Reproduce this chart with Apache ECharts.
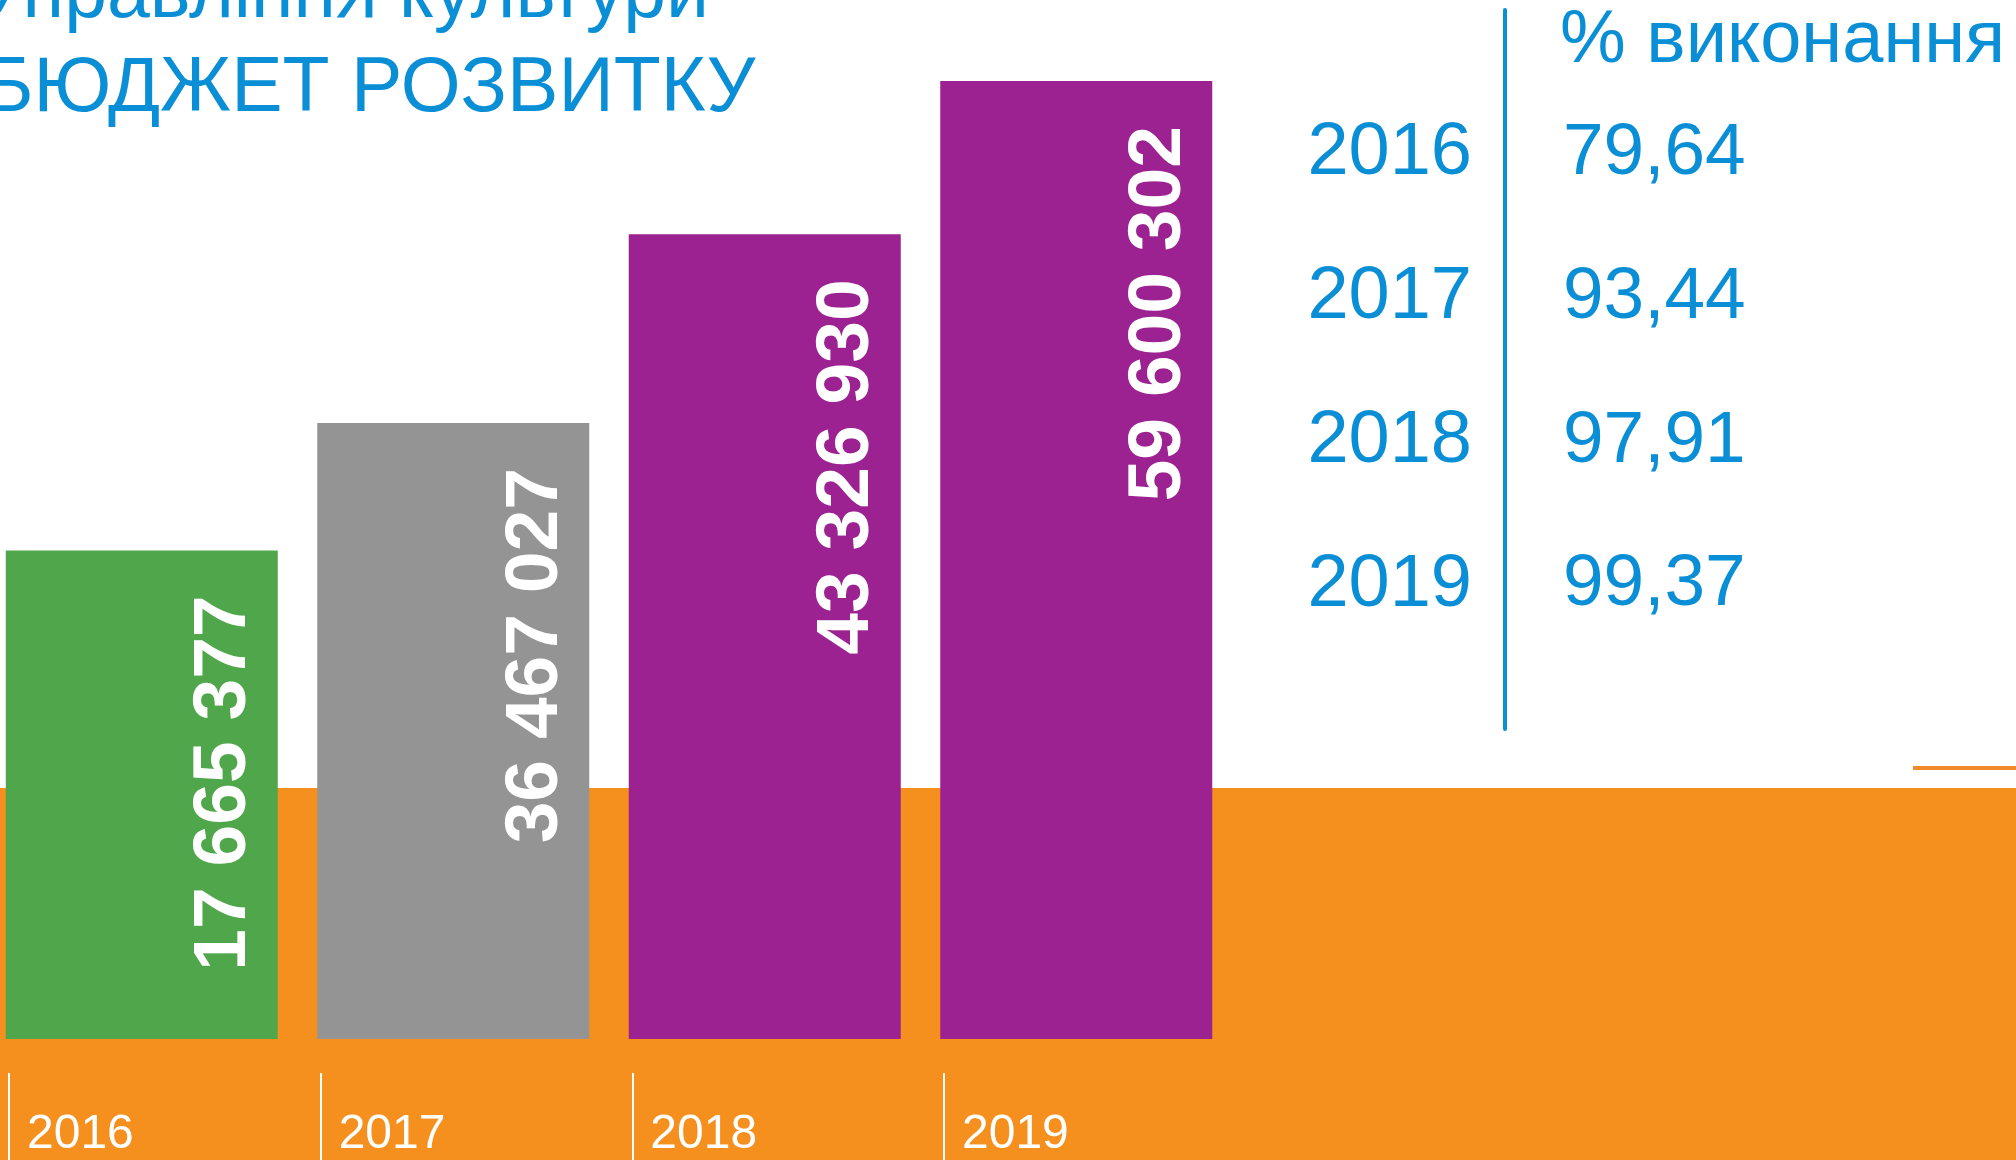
<!DOCTYPE html>
<html>
<head>
<meta charset="utf-8">
<script src="https://cdn.jsdelivr.net/npm/echarts@6/dist/echarts.min.js"></script>
<style>
html,body{margin:0;padding:0;background:#fff;}
#chart{width:2016px;height:1160px;}
</style>
</head>
<body>
<div id="chart"></div>
<script>
// ---- data ----
const years = ['2016', '2017', '2018', '2019'];
const amounts = [17665377, 36467027, 43326930, 59600302];
// apparent bar heights (share of the tallest bar, %), the infographic is not to scale
const barHeights = [51.0, 64.3, 84.0, 100];
const barColors = ['#50a64b', '#949494', '#9c2191', '#9c2191'];
const execYears = ['2016', '2017', '2018', '2019'];
const execPercent = [79.64, 93.44, 97.91, 99.37];
const titleLines = ['Управління культури', 'БЮДЖЕТ РОЗВИТКУ'];
const execHeader = '% виконання';

const BLUE = '#0a8ed6';
const FONT = '"Liberation Sans", Arial, sans-serif';

function fmtAmount(v) {
  return String(v).replace(/\B(?=(\d{3})+(?!\d))/g, ' ');
}
function fmtPct(v) {
  return v.toFixed(2).replace('.', ',');
}

const chart = echarts.init(document.getElementById('chart'), null, {renderer: 'canvas'});

const option = {
  animation: false,
  backgroundColor: '#ffffff',
  grid: [
    {left: -14, width: 1246, top: 81, height: 958, outerBoundsMode: 'none', containLabel: false},
    {left: 9, width: 935, top: 1000, height: 160, outerBoundsMode: 'none', containLabel: false},
    {left: 1505, width: 511, top: 10, height: 719, outerBoundsMode: 'none', containLabel: false}
  ],
  xAxis: [
    {type: 'category', gridIndex: 0, data: years, show: false},
    {
      type: 'category', gridIndex: 1, data: years, boundaryGap: false, position: 'bottom', z: 10,
      axisLine: {show: false},
      axisTick: {show: true, inside: true, length: 87, lineStyle: {color: '#ffffff', width: 2}},
      axisLabel: {
        show: true, inside: true, margin: 1, align: 'left', padding: [0, 0, 0, 18],
        color: '#ffffff', fontSize: 48, lineHeight: 48, fontFamily: FONT
      }
    },
    {type: 'value', gridIndex: 2, min: 0, max: 1, show: false}
  ],
  yAxis: [
    {type: 'value', gridIndex: 0, min: 0, max: 100, show: false},
    {type: 'value', gridIndex: 1, show: false},
    {
      type: 'category', gridIndex: 2, inverse: true, boundaryGap: false,
      data: [''].concat(execYears).concat([' ']),
      axisLine: {show: true, lineStyle: {color: BLUE, width: 4}},
      axisTick: {show: false},
      splitLine: {show: false},
      axisLabel: {color: BLUE, fontSize: 74, fontFamily: FONT, margin: 33}
    }
  ],
  series: [
    {
      type: 'bar', xAxisIndex: 0, yAxisIndex: 0, barWidth: 272,
      data: barHeights.map((h, i) => ({value: h, itemStyle: {color: barColors[i]}})),
      label: {
        show: true, rotate: 90, position: ['80.5%', 45], align: 'right', verticalAlign: 'middle',
        color: '#ffffff', fontWeight: 'bold', fontSize: 75, fontFamily: FONT,
        formatter: p => fmtAmount(amounts[p.dataIndex])
      }
    },
    {
      type: 'scatter', xAxisIndex: 2, yAxisIndex: 2, symbolSize: 0,
      itemStyle: {color: BLUE, opacity: 1},
      data: execYears.map((y, i) => ({value: [0, y], name: fmtPct(execPercent[i])})),
      label: {
        show: true, position: 'right', distance: 58, color: BLUE, fontSize: 73, fontFamily: FONT,
        opacity: 1,
        formatter: p => p.name
      }
    }
  ],
  graphic: [
    {type: 'rect', z: -10, shape: {x: 0, y: 788, width: 2016, height: 372}, style: {fill: '#f5901e'}},
    {type: 'rect', z: -10, shape: {x: 1913, y: 766, width: 103, height: 4}, style: {fill: '#f08a2a'}},
    {type: 'text', x: -23, y: -4, style: {text: titleLines[0], fill: BLUE, font: '77px ' + FONT, verticalAlign: 'middle'}},
    {type: 'text', x: -17, y: 90, style: {text: titleLines[1], fill: BLUE, font: '77px ' + FONT, verticalAlign: 'middle'}},
    {type: 'text', x: 1560, y: 42, style: {text: execHeader, fill: BLUE, font: '74px ' + FONT, verticalAlign: 'middle'}}
  ]
};

chart.setOption(option);
</script>
</body>
</html>
